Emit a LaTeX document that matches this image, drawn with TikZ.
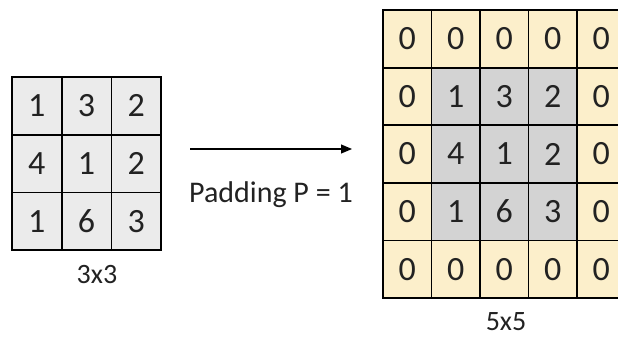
\documentclass[tikz,border=0pt]{standalone}
\usepackage{fontspec}
\setmainfont{Carlito}
\usetikzlibrary{arrows.meta}
\definecolor{padfill}{HTML}{FCEFCB}
\definecolor{corefill}{HTML}{D3D3D3}
\definecolor{inputfill}{HTML}{EBEBEB}
\definecolor{ink}{HTML}{222222}
\begin{document}
\begin{tikzpicture}[x=1pt,y=-1pt,
  gridcell/.style={draw=black, line width=1.8pt, inner sep=0pt, text=ink,
    font=\fontsize{34}{34}\selectfont},
  incell/.style={gridcell, fill=inputfill, minimum width=49.7pt, minimum height=57.7pt},
  padcell/.style={gridcell, fill=padfill, minimum width=48.5pt, minimum height=57.6pt},
  corecell/.style={padcell, fill=corefill},
  caption/.style={text=ink, font=\fontsize{28}{28}\selectfont, inner sep=0pt, anchor=base},
  flow/.style={line width=1.1pt, -{Triangle[length=11pt,width=9pt]}}]
\useasboundingbox (0,0) rectangle (618,338);
\fill[white] (0,0) rectangle (618,338);
\clip (0,0) rectangle (618,338);

% 3x3 input
\foreach \r/\row in {0/{1,3,2}, 1/{4,1,2}, 2/{1,6,3}}{
  \foreach \v [count=\c from 0] in \row{
    \node[incell] (in-\r-\c) at ({12+49.7*(\c+0.5)},{77+57.7*(\r+0.5)}) {\v};
  }
}
\node[caption] (insize) at (97,283) {3x3};

% arrow with label
\coordinate (arrowtail) at (190,149);
\coordinate (arrowhead) at (352,149);
\draw[flow] (arrowtail) -- (arrowhead);
\node[caption, font=\fontsize{30}{30}\selectfont] (padlabel) at (271,202) {Padding P = 1};

% 5x5 padded output
\foreach \r/\row in {0/{0,0,0,0,0}, 1/{0,1,3,2,0}, 2/{0,4,1,2,0}, 3/{0,1,6,3,0}, 4/{0,0,0,0,0}}{
  \foreach \v [count=\c from 0] in \row{
    \pgfmathtruncatemacro{\inner}{(\r>0)&&(\r<4)&&(\c>0)&&(\c<4)}
    \ifnum\inner=1
      \node[corecell] (out-\r-\c) at ({383+48.5*(\c+0.5)},{10+57.6*(\r+0.5)}) {\v};
    \else
      \node[padcell] (out-\r-\c) at ({383+48.5*(\c+0.5)},{10+57.6*(\r+0.5)}) {\v};
    \fi
  }
}
\node[caption] (outsize) at (506,330) {5x5};
\end{tikzpicture}
\end{document}
